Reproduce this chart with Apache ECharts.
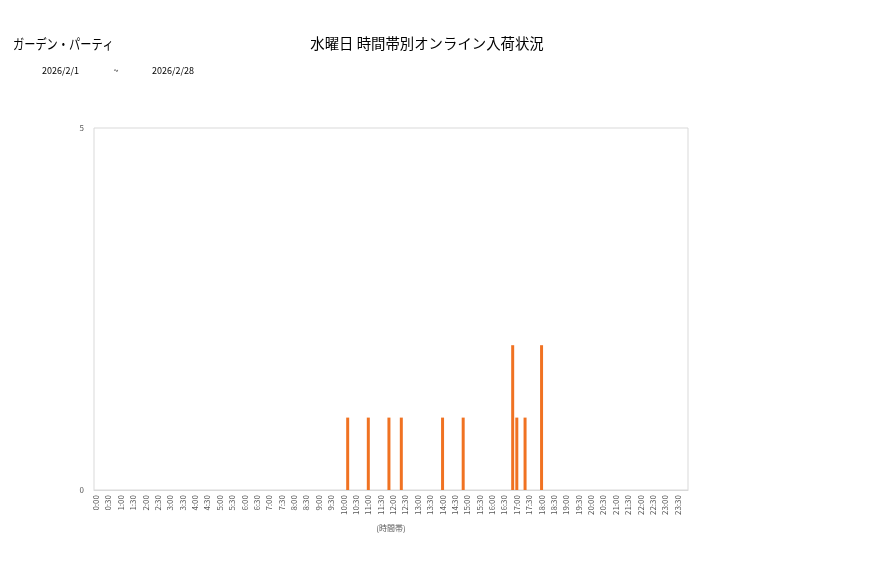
<!DOCTYPE html>
<html><head><meta charset="utf-8">
<script src="https://cdn.jsdelivr.net/npm/echarts@6/dist/echarts.min.js"></script>
<style>html,body{margin:0;padding:0;background:#fff}#c{width:877px;height:578px}</style>
</head><body><div id="c"></div>
<script>
const shopName = 'ガーデン・パーティ';
const chartTitle = '水曜日 時間帯別オンライン入荷状況';
const dateFrom = '2026/2/1';
const dateSep = '~';
const dateTo = '2026/2/28';
const xAxisName = '(時間帯)';
// 10-minute slots 0:00 .. 23:50
const categories = [];
for (let h = 0; h < 24; h++) for (let m = 0; m < 60; m += 10) categories.push(h + ':' + (m === 0 ? '00' : m));
const values = [
  0,0,0,0,0,0,0,0,0,0,0,0,
  0,0,0,0,0,0,0,0,0,0,0,0,
  0,0,0,0,0,0,0,0,0,0,0,0,
  0,0,0,0,0,0,0,0,0,0,0,0,
  0,0,0,0,0,0,0,0,0,0,0,0,
  0,1,0,0,0,0,1,0,0,0,0,1,
  0,0,1,0,0,0,0,0,0,0,0,0,
  1,0,0,0,0,1,0,0,0,0,0,0,
  0,0,0,0,0,2,1,0,1,0,0,0,
  2,0,0,0,0,0,0,0,0,0,0,0,
  0,0,0,0,0,0,0,0,0,0,0,0,
  0,0,0,0,0,0,0,0,0,0,0,0
];
const yMin = 0, yMax = 5, yInterval = 5;

const font = '"Noto Sans CJK JP", "Noto Sans", sans-serif';
function txt(text, x, y, size, align, scaleX) {
  return {
    type: 'text', x: x, y: y, scaleX: scaleX || 1, originX: 0,
    style: { text: text, fontSize: size, fontFamily: font, fill: '#000', textAlign: align || 'left', textVerticalAlign: 'middle' }
  };
}
const chart = echarts.init(document.getElementById('c'));
chart.setOption({
  animation: false,
  textStyle: { fontFamily: font },
  graphic: [
    txt(shopName, 13, 44, 14, 'left', 0.8),
    txt(chartTitle, 427, 44, 14.4, 'center'),
    txt(dateFrom, 42, 71, 9, 'left'),
    txt(dateSep, 116, 71, 9, 'center'),
    txt(dateTo, 152, 71, 9, 'left')
  ],
  grid: { left: 94, right: 189, top: 128, bottom: 88, show: true, borderColor: '#d9d9d9', borderWidth: 1, containLabel: false },
  xAxis: {
    type: 'category', data: categories, boundaryGap: true,
    name: xAxisName, nameLocation: 'middle', nameGap: 34,
    nameTextStyle: { fontSize: 8, color: '#595959' },
    axisLine: { show: true, lineStyle: { color: '#d9d9d9' } },
    axisTick: { show: false },
    axisLabel: { interval: 2, rotate: 90, fontSize: 8, color: '#595959', margin: 5 }
  },
  yAxis: {
    type: 'value', min: yMin, max: yMax, interval: yInterval,
    axisLine: { show: false }, axisTick: { show: false }, splitLine: { show: false },
    axisLabel: { fontSize: 8, color: '#595959', margin: 10 }
  },
  series: [{
    type: 'bar', data: values, barWidth: 3,
    itemStyle: { color: '#f07222' }
  }]
});
</script></body></html>
